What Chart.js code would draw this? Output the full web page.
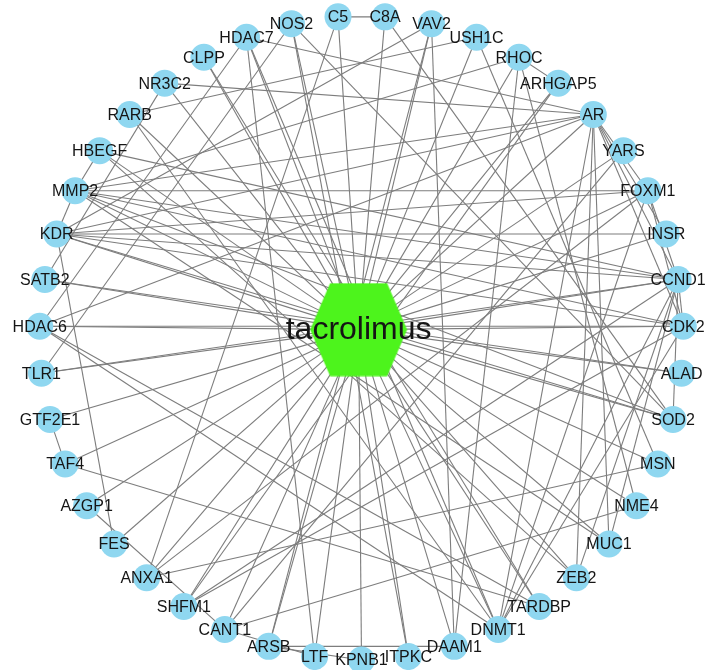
<!DOCTYPE html>
<html>
<head>
<meta charset="utf-8">
<script src="https://cdn.jsdelivr.net/npm/chart.js@4.4.1/dist/chart.umd.min.js"></script>
<style>
  html, body { margin: 0; padding: 0; background: #fff; }
  #wrap { width: 707px; height: 670px; }
</style>
</head>
<body>
<div id="wrap"><canvas id="net" width="707" height="670"></canvas></div>
<script>
// drug in the middle
const drug = 'tacrolimus';

// targets, in circle order, starting at the bottom and going counter-clockwise
const genes = [
  'KPNB1', 'ITPKC', 'DAAM1', 'DNMT1', 'TARDBP', 'ZEB2', 'MUC1', 'NME4', 'MSN',
  'SOD2', 'ALAD', 'CDK2', 'CCND1', 'INSR', 'FOXM1', 'YARS', 'AR', 'ARHGAP5',
  'RHOC', 'USH1C', 'VAV2', 'C8A', 'C5', 'NOS2', 'HDAC7', 'CLPP', 'NR3C2',
  'RARB', 'HBEGF', 'MMP2', 'KDR', 'SATB2', 'HDAC6', 'TLR1', 'GTF2E1', 'TAF4',
  'AZGP1', 'FES', 'ANXA1', 'SHFM1', 'CANT1', 'ARSB', 'LTF'
];

// interactions between targets (every target is also linked to the drug)
const links = [
  ['C5', 'C8A'], ['C5', 'ANXA1'], ['C8A', 'SOD2'],
  ['VAV2', 'KDR'], ['VAV2', 'ARSB'], ['VAV2', 'DAAM1'],
  ['USH1C', 'MSN'], ['USH1C', 'RARB'],
  ['RHOC', 'ARHGAP5'], ['RHOC', 'NME4'], ['RHOC', 'MMP2'], ['RHOC', 'DAAM1'],
  ['ARHGAP5', 'SHFM1'],
  ['AR', 'NR3C2'], ['AR', 'HDAC7'], ['AR', 'MMP2'], ['AR', 'KDR'], ['AR', 'HDAC6'],
  ['AR', 'ZEB2'], ['AR', 'MUC1'], ['AR', 'DNMT1'], ['AR', 'CCND1'], ['AR', 'CDK2'],
  ['AR', 'FOXM1'], ['AR', 'INSR'],
  ['YARS', 'CANT1'],
  ['FOXM1', 'MMP2'], ['FOXM1', 'CCND1'], ['FOXM1', 'CDK2'], ['FOXM1', 'DNMT1'],
  ['FOXM1', 'KDR'], ['FOXM1', 'ANXA1'],
  ['INSR', 'KDR'],
  ['CCND1', 'CDK2'], ['CCND1', 'KDR'], ['CCND1', 'HBEGF'], ['CCND1', 'MMP2'],
  ['CCND1', 'DNMT1'], ['CCND1', 'ZEB2'], ['CCND1', 'MUC1'], ['CCND1', 'SHFM1'],
  ['CCND1', 'TLR1'], ['CCND1', 'SOD2'],
  ['CDK2', 'HDAC6'], ['CDK2', 'MMP2'], ['CDK2', 'DNMT1'], ['CDK2', 'SHFM1'], ['CDK2', 'KDR'],
  ['ALAD', 'SATB2'],
  ['SOD2', 'KDR'], ['SOD2', 'MMP2'], ['SOD2', 'NOS2'],
  ['MSN', 'ANXA1'], ['NME4', 'CANT1'], ['MUC1', 'MMP2'], ['ZEB2', 'HBEGF'],
  ['TARDBP', 'HDAC6'], ['TARDBP', 'TAF4'], ['TARDBP', 'CLPP'],
  ['DNMT1', 'HDAC6'], ['DNMT1', 'RARB'], ['DNMT1', 'HDAC7'],
  ['ARSB', 'DAAM1'], ['ARSB', 'KPNB1'],
  ['LTF', 'CANT1'], ['LTF', 'HDAC7'],
  ['ITPKC', 'NOS2'],
  ['AZGP1', 'CANT1'], ['KDR', 'FES'], ['TAF4', 'GTF2E1'], ['TLR1', 'NOS2'],
  ['HDAC6', 'HDAC7'], ['SATB2', 'NR3C2'], ['KDR', 'MMP2'], ['HBEGF', 'MMP2']
];

// circular layout (unit circle), drug sits slightly off centre like the original
const pos = {};
genes.forEach((g, i) => {
  const a = (270 + i * 360 / genes.length) * Math.PI / 180;
  pos[g] = { x: Math.cos(a), y: Math.sin(a) };
});
pos[drug] = { x: -0.009, y: 0.026 };

// hexagon marker for the drug
const hex = document.createElement('canvas');
hex.width = 98; hex.height = 94;
(() => {
  const c = hex.getContext('2d');
  c.fillStyle = '#4df41c';
  c.beginPath();
  c.moveTo(20.5, 0.5); c.lineTo(77.5, 0.5); c.lineTo(97.5, 47);
  c.lineTo(77.5, 93.5); c.lineTo(20.5, 93.5); c.lineTo(0.5, 47);
  c.closePath();
  c.fill();
})();

const edgeSets = [];
genes.forEach(g => edgeSets.push([drug, g]));
links.forEach(l => edgeSets.push(l));

const datasets = [
  {
    label: 'genes',
    data: genes.map(g => ({ x: pos[g].x, y: pos[g].y, name: g })),
    pointRadius: 13.5,
    pointHoverRadius: 13.5,
    pointBackgroundColor: '#8fd7f0',
    pointBorderWidth: 0,
    showLine: false,
    clip: false,
    order: 0
  },
  {
    label: 'drug',
    data: [{ x: pos[drug].x, y: pos[drug].y, name: drug }],
    pointStyle: hex,
    showLine: false,
    clip: false,
    order: 0
  }
];
edgeSets.forEach(([a, b]) => {
  datasets.push({
    label: a + '-' + b,
    data: [{ x: pos[a].x, y: pos[a].y }, { x: pos[b].x, y: pos[b].y }],
    showLine: true,
    borderColor: '#7d7d7d',
    borderWidth: 1.1,
    pointRadius: 0,
    clip: false,
    order: 2
  });
});

// node labels on top of everything
const labelPlugin = {
  id: 'nodeLabels',
  afterDatasetsDraw(chart) {
    const ctx = chart.ctx;
    const xs = chart.scales.x, ys = chart.scales.y;
    ctx.save();
    ctx.fillStyle = '#151515';
    ctx.textAlign = 'center';
    ctx.textBaseline = 'middle';
    ctx.font = '16px Arial, "Liberation Sans", sans-serif';
    genes.forEach(g => {
      ctx.fillText(g, xs.getPixelForValue(pos[g].x), ys.getPixelForValue(pos[g].y) + 1);
    });
    ctx.font = '32px Arial, "Liberation Sans", sans-serif';
    ctx.fillText(drug, xs.getPixelForValue(pos[drug].x), ys.getPixelForValue(pos[drug].y) + 1);
    ctx.restore();
  }
};

// circle centre at (361.5, 338) px, radius 322 px
const R = 322, cx = 361.5, cy = 338;
new Chart(document.getElementById('net'), {
  type: 'scatter',
  data: { datasets },
  options: {
    responsive: false,
    animation: false,
    events: [],
    layout: { padding: 0, autoPadding: false },
    scales: {
      x: { display: false, min: -cx / R, max: (707 - cx) / R },
      y: { display: false, min: -(670 - cy) / R, max: cy / R }
    },
    plugins: {
      legend: { display: false },
      tooltip: { enabled: false }
    }
  },
  plugins: [labelPlugin]
});
</script>
</body>
</html>
